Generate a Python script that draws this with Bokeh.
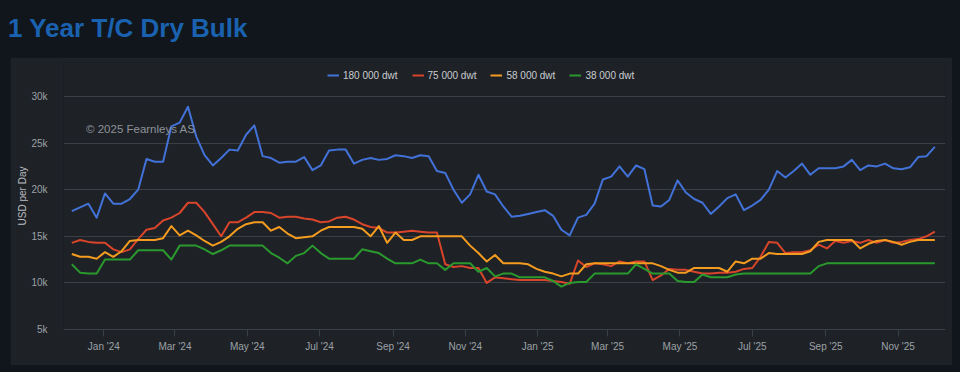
import pandas as pd
from bokeh.plotting import figure
from bokeh.models import (Range1d, FixedTicker, DatetimeTickFormatter, CustomJSTickFormatter,
                          Legend, LegendItem, Label, Div)
from bokeh.layouts import column
from bokeh.embed import file_html
from bokeh.resources import INLINE

# ---------------- data ----------------
title_text = "1 Year T/C Dry Bulk"
copyright_text = "\u00a9 2025 Fearnleys AS"
y_axis_title = "USD per Day"
series_names = ["180 000 dwt", "75 000 dwt", "58 000 dwt", "38 000 dwt"]
series_colors = ["#4272d8", "#d8452b", "#f39c1f", "#2a9a2e"]

week_start = "2023-12-05"
n_weeks = 105

cape_180k = [17700, 18100, 18500, 17000, 19600, 18500, 18500, 19000, 20000, 23300,
             23000, 23000, 26800, 27200, 28900, 25700, 23700, 22600, 23400, 24300,
             24200, 25900, 26900, 23600, 23400, 22900, 23000, 23000, 23500, 22100,
             22600, 24200, 24300, 24300, 22800, 23200, 23400, 23200, 23300, 23700,
             23600, 23400, 23700, 23600, 22000, 21800, 20000, 18600, 19500, 21600,
             19800, 19500, 18200, 17100, 17200, 17400, 17600, 17800, 17200, 15700,
             15100, 17000, 17300, 18500, 21100, 21400, 22500, 21400, 22600, 22200,
             18300, 18200, 18900, 21000, 19700, 19000, 18600, 17400, 18200, 19100,
             19500, 17800, 18300, 18900, 20000, 22000, 21300, 22000, 22800, 21600,
             22300, 22300, 22300, 22500, 23200, 22100, 22600, 22500, 22800, 22300,
             22200, 22400, 23500, 23600, 24600]

kmx_75k = [14300, 14600, 14400, 14300, 14300, 13600, 13300, 13600, 14700, 15700,
           15900, 16700, 17000, 17500, 18600, 18600, 17600, 16300, 15000, 16500,
           16500, 17000, 17600, 17600, 17500, 17000, 17100, 17100, 16900, 16800,
           16500, 16600, 17000, 17100, 16800, 16300, 16000, 15900, 15400, 15400,
           15500, 15600, 15500, 15400, 15400, 12000, 11700, 11800, 11600, 11600,
           10000, 10600, 10500, 10400, 10300, 10300, 10300, 10300, 10200, 10100,
           9900, 12400, 11700, 12100, 12000, 11800, 12300, 12100, 12300, 12300,
           10300, 10800, 11500, 11400, 11400, 11200, 11000, 11000, 11100, 11100,
           11200, 11500, 11600, 12800, 14400, 14300, 13200, 13300, 13300, 13500,
           14100, 13700, 14500, 14300, 14500, 14300, 14600, 14300, 14600, 14300,
           14400, 14600, 14700, 15000, 15500]

smx_58k = [13100, 12800, 12800, 12600, 13300, 12800, 13400, 14500, 14600, 14600,
           14600, 14800, 16100, 15100, 15600, 15100, 14500, 14000, 14400, 15000,
           15800, 16300, 16500, 16500, 15600, 16000, 15300, 14800, 14900, 15000,
           15600, 16000, 16000, 16000, 16000, 15800, 15000, 16100, 14300, 15400,
           14600, 14600, 15000, 15000, 15000, 15000, 15000, 15000, 14000, 13200,
           12300, 13000, 12100, 12100, 12100, 12000, 11500, 11200, 11000, 10700,
           11000, 11000, 12000, 12100, 12100, 12100, 12100, 12100, 12100, 12100,
           12100, 11800, 11400, 11100, 11100, 11600, 11600, 11600, 11600, 11200,
           12300, 12100, 12600, 12600, 13200, 13100, 13100, 13100, 13100, 13400,
           14400, 14600, 14600, 14600, 14600, 13700, 14200, 14500, 14600, 14400,
           14100, 14400, 14600, 14600, 14600]

hsz_38k = [12000, 11100, 11000, 11000, 12500, 12500, 12500, 12500, 13500, 13500,
           13500, 13500, 12500, 14000, 14000, 14000, 13600, 13100, 13500, 14000,
           14000, 14000, 14000, 14000, 13200, 12700, 12100, 12900, 13200, 14000,
           13200, 12600, 12600, 12600, 12600, 13600, 13400, 13200, 12600, 12100,
           12100, 12100, 12500, 12100, 12100, 11400, 12100, 12100, 12100, 11200,
           11600, 10700, 11000, 11000, 10600, 10600, 10600, 10600, 10200, 9600,
           10000, 10100, 10100, 11000, 11000, 11000, 11000, 11000, 12000, 11500,
           11000, 11000, 11000, 10200, 10100, 10100, 10900, 10600, 10600, 10600,
           10900, 11000, 11000, 11000, 11000, 11000, 11000, 11000, 11000, 11000,
           11800, 12100, 12100, 12100, 12100, 12100, 12100, 12100, 12100, 12100,
           12100, 12100, 12100, 12100, 12100]

y_ticks = [5000, 10000, 15000, 20000, 25000, 30000]
x_tick_start = "2024-01-01"
x_tick_end = "2025-11-01"

# ---------------- styling ----------------
PAGE_BG = "#10161c"
PANEL_BG = "#1e2126"
GRID = "#3a3f45"
TICK_TXT = "#9ca1a6"
FONT = "Liberation Sans"

dates = pd.date_range(week_start, periods=n_weeks, freq="7D")
series = [cape_180k, kmx_75k, smx_58k, hsz_38k]

# frame extends above the 30k gridline so that the legend can sit inside it
# (30k line 34px below frame top, 233px for 25k)
y_top = 30000 + 34 * 25000 / 233

p = figure(width=942, height=308, x_axis_type="datetime",
           x_range=Range1d(pd.Timestamp("2023-11-28"), pd.Timestamp("2025-12-11")),
           y_range=Range1d(5000, y_top),
           output_backend="svg", toolbar_location=None,
           min_border_left=53, min_border_right=7, min_border_top=5, min_border_bottom=36,
           background_fill_color=PANEL_BG, border_fill_color=PANEL_BG,
           outline_line_color=None, margin=(0, 0, 0, 2))

items = []
for name, vals, col in zip(series_names, series, series_colors):
    r = p.line(dates, vals, line_color=col, line_width=2, line_join="round")
    items.append(LegendItem(label=name, renderers=[r]))

legend = Legend(items=items, orientation="horizontal", location=(264, 248),
                glyph_width=12, glyph_height=12, label_height=12, label_standoff=4,
                spacing=14, padding=0, margin=0,
                label_text_font=FONT, label_text_font_size="10px", label_text_color="#c9ccd0",
                background_fill_alpha=0, border_line_alpha=0)
p.add_layout(legend)

# y axis
p.yaxis.ticker = FixedTicker(ticks=y_ticks)
p.yaxis.formatter = CustomJSTickFormatter(code="return (tick/1000) + 'k';")
p.yaxis.axis_line_color = None
p.yaxis.major_tick_line_color = None
p.yaxis.minor_tick_line_color = None
p.yaxis.major_label_standoff = 10
p.yaxis.major_label_text_font = FONT
p.yaxis.major_label_text_font_size = "10px"
p.yaxis.major_label_text_color = TICK_TXT
p.yaxis.axis_label = y_axis_title
p.yaxis.axis_label_text_font = FONT
p.yaxis.axis_label_text_font_size = "10px"
p.yaxis.axis_label_text_font_style = "normal"
p.yaxis.axis_label_text_color = "#b9bdc1"
p.yaxis.axis_label_standoff = 0

# x axis
x_ticks = [d.value / 1e6 for d in pd.date_range(x_tick_start, x_tick_end, freq="2MS")]
p.xaxis.ticker = FixedTicker(ticks=x_ticks)
fmt = "%b '%y"
p.xaxis.formatter = DatetimeTickFormatter(days=fmt, months=fmt, years=fmt, hours=fmt,
                                          hourmin=fmt, minutes=fmt, minsec=fmt, seconds=fmt,
                                          milliseconds=fmt)
p.xaxis.axis_line_color = GRID
p.xaxis.major_tick_line_color = GRID
p.xaxis.major_tick_out = 7
p.xaxis.major_tick_in = 0
p.xaxis.minor_tick_line_color = None
p.xaxis.major_label_standoff = 4
p.xaxis.major_label_text_font = FONT
p.xaxis.major_label_text_font_size = "10px"
p.xaxis.major_label_text_color = TICK_TXT

p.ygrid.grid_line_color = GRID
p.xgrid.grid_line_color = None

p.add_layout(Label(x=pd.Timestamp("2023-12-17").value / 1e6, y=26540, text=copyright_text,
                   text_font=FONT, text_font_size="11.5px", text_color="#8d9298",
                   text_baseline="middle"))

title_div = Div(text=('<div style="padding-top:6px;font-family:\'Liberation Sans\';font-weight:bold;'
                      'font-size:26px;line-height:28px;color:#1a62b0;white-space:nowrap;">'
                      + title_text + '</div>'),
                width=942, height=49, margin=(0, 0, 0, 0))

layout = column(title_div, p, spacing=0)

html = file_html(layout, INLINE, title=title_text)
html = html.replace("</head>",
                    "<style>html{background:%s;}body{background:%s;margin:8px !important;}</style></head>"
                    % (PAGE_BG, PAGE_BG), 1)
open("out.html", "w").write(html)
